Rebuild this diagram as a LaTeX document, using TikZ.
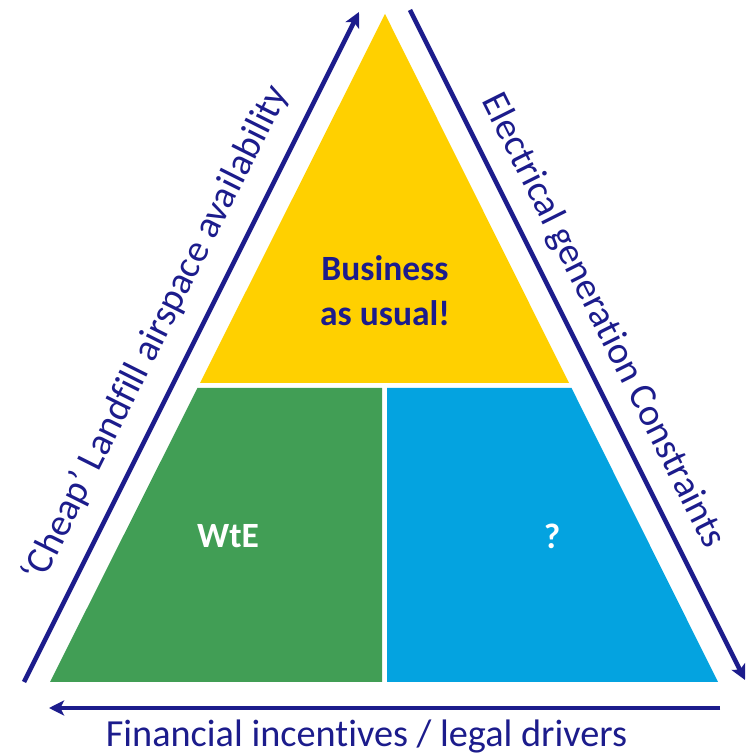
\documentclass[tikz,border=0pt]{standalone}
\usepackage{fontspec}
\setmainfont{Carlito}[Ligatures=NoCommon]
\usetikzlibrary{arrows.meta}

\definecolor{navy}{HTML}{1C1C8C}
\definecolor{bauyellow}{HTML}{FFD000}
\definecolor{wtegreen}{HTML}{419E55}
\definecolor{qblue}{HTML}{04A3E0}

\tikzset{
	drive/.style={-{Stealth[length=3mm,width=3mm,inset=0.7mm]}, navy, line width=2.6pt},
	sidetext/.style={text=navy, font=\fontsize{21.8}{26}\selectfont},
	blocktext/.style={font=\fontsize{20.2}{25.6}\selectfont\bfseries, align=center}
}

\begin{document}
\begin{tikzpicture}
		\useasboundingbox (0, 0) rectangle (15.02, 15.08);

		% Top of the pyramid
		\fill[bauyellow] (7.70, 14.80) -- (4.00, 7.42) -- (11.38, 7.42) -- cycle;
		\node[blocktext, text=navy] (bau) at (7.70, 9.27) {Business\\as usual!};

		% Bottom left
		\fill[wtegreen] (3.95, 7.32) -- (7.64, 7.32) -- (7.64, 1.44) -- (1.00, 1.44) -- cycle;
		\node[blocktext, text=white] (wte) at (4.56, 4.36) {WtE};

		% Bottom right
		\fill[qblue] (7.74, 7.32) -- (11.43, 7.32) -- (14.36, 1.44) -- (7.74, 1.44) -- cycle;
		\node[blocktext, text=white] (unknown) at (11.04, 4.36) {?};

		% Arrow ends
		\coordinate (l0) at (0.48, 1.44);
		\coordinate (l1) at (7.18, 14.84);
		\coordinate (r0) at (8.20, 14.88);
		\coordinate (r1) at (14.90, 1.48);
		\coordinate (b0) at (14.40, 0.92);
		\coordinate (b1) at (0.98, 0.92);

		\draw[drive] (l0) to (l1);
		\draw[drive] (r0) to (r1);
		\draw[drive] (b0) to (b1);

		% Labels along the arrows
		\node[sidetext, rotate=63.43] (landfill) at (3.12, 8.40) {‘Cheap’ Landfill airspace availability};
		\node[sidetext, rotate=-63.43] (power) at (12.05, 8.66) {Electrical generation Constraints};
		\node[sidetext, anchor=base] (money) at (7.33, 0.15) {Financial incentives / legal drivers};
	\end{tikzpicture}
\end{document}
